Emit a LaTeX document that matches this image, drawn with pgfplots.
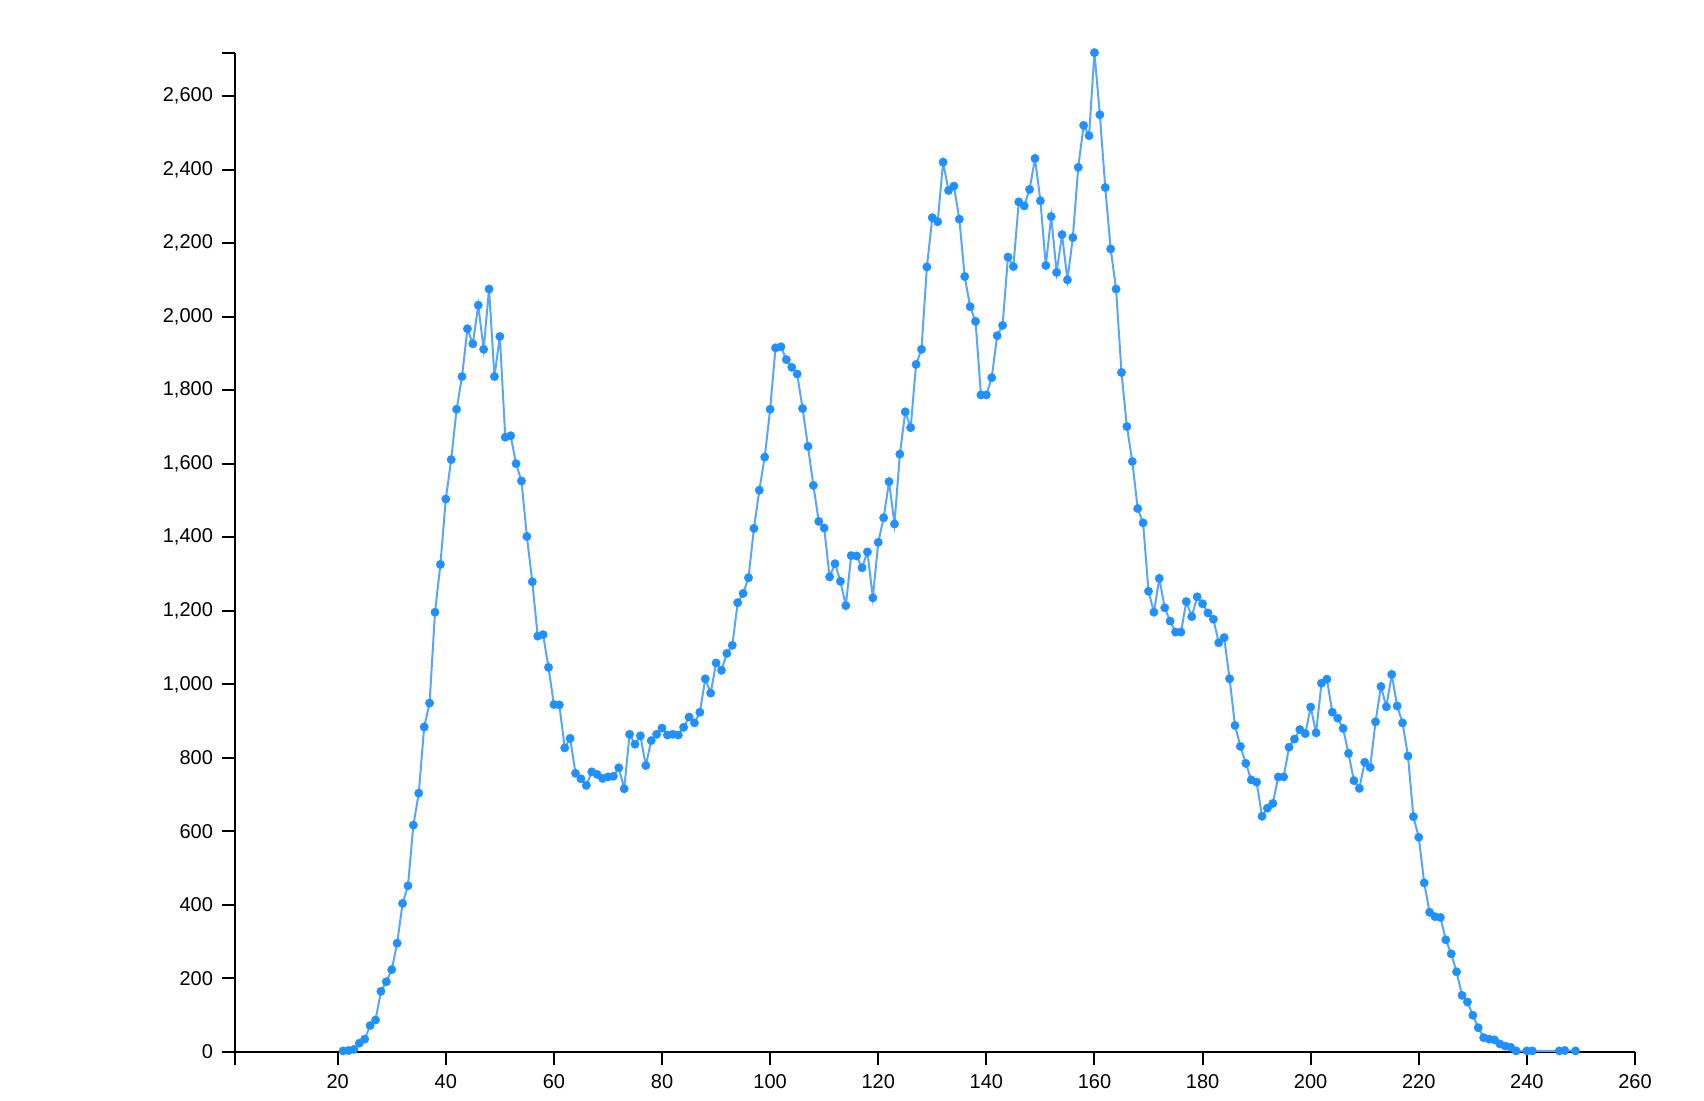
\documentclass[border=0pt]{standalone}
\usepackage{fontspec}
\setmainfont{Liberation Sans}
\usepackage{pgfplots}
\pgfplotsset{compat=1.18}
\definecolor{dotblue}{RGB}{30,144,255}
\definecolor{lineblue}{RGB}{88,166,252}

\pgfplotstableread{
x y
21 3
22 4
23 7
24 24
25 35
26 72
27 87
28 165
29 191
30 224
31 296
32 404
33 452
34 617
35 704
36 884
37 949
38 1196
39 1326
40 1504
41 1611
42 1748
43 1837
44 1967
45 1926
46 2031
47 1911
48 2075
49 1837
50 1946
51 1672
52 1676
53 1600
54 1553
55 1402
56 1279
57 1131
58 1135
59 1046
60 945
61 944
62 827
63 853
64 758
65 743
66 725
67 762
68 755
69 744
70 748
71 750
72 773
73 716
74 864
75 837
76 860
77 779
78 847
79 864
80 881
81 862
82 864
83 862
84 883
85 911
86 895
87 924
88 1015
89 976
90 1058
91 1038
92 1084
93 1106
94 1222
95 1247
96 1290
97 1424
98 1528
99 1618
100 1748
101 1915
102 1918
103 1883
104 1862
105 1844
106 1750
107 1647
108 1541
109 1443
110 1425
111 1292
112 1328
113 1280
114 1214
115 1350
116 1349
117 1317
118 1360
119 1235
120 1386
121 1453
122 1551
123 1436
124 1626
125 1741
126 1698
127 1870
128 1911
129 2135
130 2269
131 2258
132 2420
133 2343
134 2355
135 2265
136 2109
137 2027
138 1987
139 1787
140 1787
141 1834
142 1948
143 1976
144 2162
145 2136
146 2312
147 2301
148 2346
149 2430
150 2315
151 2139
152 2272
153 2120
154 2223
155 2100
156 2215
157 2406
158 2520
159 2492
160 2718
161 2549
162 2351
163 2184
164 2075
165 1848
166 1701
167 1606
168 1478
169 1439
170 1253
171 1196
172 1288
173 1208
174 1172
175 1142
176 1142
177 1225
178 1184
179 1238
180 1219
181 1194
182 1177
183 1113
184 1127
185 1015
186 888
187 831
188 785
189 740
190 734
191 641
192 663
193 676
194 748
195 748
196 829
197 851
198 877
199 866
200 938
201 868
202 1003
203 1014
204 924
205 908
206 880
207 812
208 738
209 717
210 788
211 774
212 898
213 994
214 939
215 1027
216 941
217 895
218 805
219 640
220 584
221 460
222 380
223 368
224 366
225 305
226 267
227 218
228 154
229 136
230 100
231 66
232 39
233 35
234 33
235 22
236 16
237 13
238 3
240 3
241 3
246 3
247 4
249 3
}\histdata

\begin{document}
\begin{tikzpicture}
% page frame: 1 px of the reference = 0.5pt
\path[use as bounding box] (-117.5pt,-24pt) rectangle (734.5pt,526pt);
\begin{axis}[
    at={(0,0)}, anchor=south west,
    scale only axis,
    width=700pt, height=499.7pt,
    xmin=1, xmax=260, ymin=0, ymax=2718,
    axis lines=left,
    axis line style={-, line width=1pt, black},
    clip=false,
    xtick={20,40,...,260},
    ytick={0,200,...,2600},
    extra x ticks={1}, extra x tick labels={},
    extra y ticks={2718}, extra y tick labels={},
    extra tick style={grid=none},
    tick align=outside,
    major tick length=6.5pt,
    tick style={line width=1pt, black},
    tick label style={font=\fontsize{10}{12}\selectfont},
    xticklabel style={yshift=-1pt},
    yticklabel style={xshift=-1pt},
    /pgf/number format/assume math mode=true,
    /pgf/number format/1000 sep={,},
]
\addplot[lineblue, line width=1pt, mark=*, mark size=2.1pt,
    mark options={draw=dotblue, fill=dotblue, line width=0.2pt}]
    table[x=x, y=y] {\histdata};
\end{axis}
\end{tikzpicture}
\end{document}
